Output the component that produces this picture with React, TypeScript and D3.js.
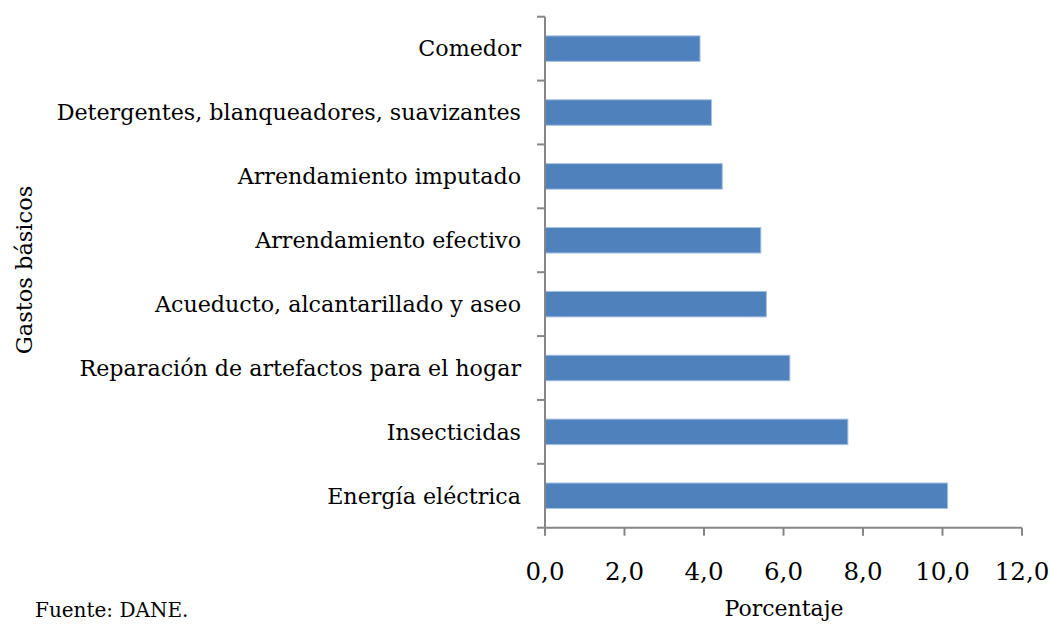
import React from "react";
import * as d3 from "d3";

const categories = [
  "Comedor",
  "Detergentes, blanqueadores, suavizantes",
  "Arrendamiento imputado",
  "Arrendamiento efectivo",
  "Acueducto, alcantarillado y aseo",
  "Reparación de artefactos para el hogar",
  "Insecticidas",
  "Energía eléctrica",
];
const values = [3.9, 4.19, 4.46, 5.43, 5.57, 6.16, 7.62, 10.13];
const xTicks = [0, 2, 4, 6, 8, 10, 12];

const FONT = "'DejaVu Serif', serif";
const AXIS = "#868686";

export default function App() {
  const W = 1050, H = 624;
  const x0 = 545, x1 = 1022, yTop = 16.7, yBot = 527.7;
  const x = d3.scaleLinear().domain([0, 12]).range([x0, x1]);
  const y = d3.scaleBand<string>().domain(categories).range([yTop, yBot]).paddingInner(0.6).paddingOuter(0.3);
  const bandEdges = d3.range(categories.length + 1).map((i) => yTop + (i * (yBot - yTop)) / categories.length);
  const fmt = (v: number) => v.toFixed(1).replace(".", ",");
  return (
    <svg width={W} height={H} style={{ position: "absolute", left: 0, top: 0 }} fontFamily={FONT}>
      <rect width={W} height={H} fill="#fff" />
      {categories.map((c, i) => (
        <rect key={c} x={x(0)} y={y(c)!} width={x(values[i]) - x(0)} height={y.bandwidth()}
          fill="#4f81bd" stroke="#a9c2e0" strokeWidth={1} />
      ))}
      <line x1={x0} x2={x0} y1={yTop} y2={yBot} stroke={AXIS} strokeWidth={2} />
      <line x1={x0} x2={x1} y1={yBot} y2={yBot} stroke={AXIS} strokeWidth={2} />
      {bandEdges.map((yy, i) => (
        <line key={"yt" + i} x1={x0 - 8} x2={x0} y1={yy} y2={yy} stroke={AXIS} strokeWidth={2} />
      ))}
      {xTicks.map((t) => (
        <g key={"xt" + t}>
          <line x1={x(t)} x2={x(t)} y1={yBot} y2={yBot + 8} stroke={AXIS} strokeWidth={2} />
          <text x={x(t)} y={580} textAnchor="middle" fontSize={24.5} fill="#000">{fmt(t)}</text>
        </g>
      ))}
      {categories.map((c) => (
        <text key={"l" + c} x={521} y={y(c)! + y.bandwidth() / 2} dy="0.35em" textAnchor="end" fontSize={22.2} fill="#000">{c}</text>
      ))}
      <text x={784} y={616} textAnchor="middle" fontSize={22} fill="#000">Porcentaje</text>
      <text transform={`translate(32,270) rotate(-90)`} textAnchor="middle" fontSize={22.5} fill="#000">Gastos básicos</text>
      <text x={35} y={617} fontSize={20} fill="#000">Fuente: DANE.</text>
    </svg>
  );
}
